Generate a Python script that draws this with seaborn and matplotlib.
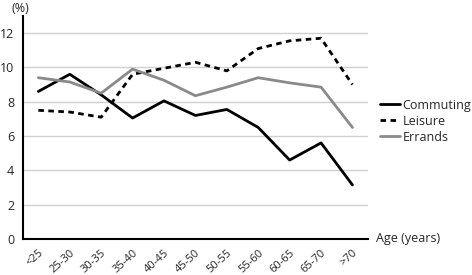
import matplotlib
matplotlib.use("Agg")
import matplotlib.pyplot as plt
import matplotlib.transforms as mtransforms
import seaborn as sns
import pandas as pd

ages = ["<25", "25-30", "30-35", "35-40", "40-45", "45-50", "50-55", "55-60", "60-65", "65-70", ">70"]
commuting = [8.6, 9.6, 8.4, 7.05, 8.05, 7.2, 7.55, 6.5, 4.6, 5.6, 3.15]
leisure = [7.5, 7.4, 7.1, 9.6, 9.95, 10.3, 9.8, 11.1, 11.55, 11.7, 9.0]
errands = [9.4, 9.15, 8.5, 9.9, 9.25, 8.35, 8.85, 9.4, 9.1, 8.85, 6.5]
yticks = [0, 2, 4, 6, 8, 10, 12]

sns.set_style("white")
plt.rcParams['font.family'] = ['Open Sans', 'DejaVu Sans']

idx = list(range(len(ages)))
df = pd.DataFrame({"pos": idx * 3,
                   "pct": commuting + leisure + errands,
                   "series": ["Commuting"] * 11 + ["Leisure"] * 11 + ["Errands"] * 11})

fig = plt.figure(figsize=(4.72, 2.75), dpi=100)
ax = fig.add_axes([0.048, 0.131, 0.732, 0.811])

sns.lineplot(data=df, x="pos", y="pct", hue="series", style="series",
             palette={"Commuting": "black", "Leisure": "black", "Errands": "#8a8a8a"},
             dashes={"Commuting": "", "Leisure": (2, 1.6), "Errands": ""},
             linewidth=2, ax=ax, sort=False)

ax.set_xlim(-0.5, 10.5)
ax.set_ylim(0, 13)
ax.set_yticks(yticks)
ax.set_yticklabels([str(v) for v in yticks], fontsize=9)
for y in yticks[1:]:
    ax.axhline(y, color="#d0d0d0", lw=1, zorder=0)

ax.set_xticks(idx)
ax.set_xticklabels(ages, fontsize=8, rotation=42, ha="right", va="top", rotation_mode="anchor")
offset = mtransforms.ScaledTranslation(12 / 100, 0, fig.dpi_scale_trans)
for lab in ax.get_xticklabels():
    lab.set_transform(lab.get_transform() + offset)
ax.set_xticks([i - 0.5 for i in range(len(ages) + 1)], minor=True)
ax.tick_params(axis="x", which="major", length=0, pad=6)
ax.tick_params(axis="x", which="minor", length=4, width=1.2, direction="out", color="black")
ax.tick_params(axis="y", length=4, width=1.2, direction="out", color="black", pad=2)

for s in ["top", "right"]:
    ax.spines[s].set_visible(False)
for s in ["left", "bottom"]:
    ax.spines[s].set_linewidth(1.5)
    ax.spines[s].set_color("black")

ax.set_xlabel("")
ax.set_ylabel("")
fig.text(0.025, 0.97, "(%)", fontsize=9, va="center", ha="left")
fig.text(0.797, 0.131, "Age (years)", fontsize=9, va="center", ha="left")

handles, labels = ax.get_legend_handles_labels()
ax.legend(handles, labels, loc="upper left", bbox_to_anchor=(0.795, 0.66),
          bbox_transform=fig.transFigure, frameon=False, fontsize=9,
          handlelength=1.6, handletextpad=0.2, labelspacing=0.25, borderaxespad=0)

fig.savefig("out.png", dpi=100)
